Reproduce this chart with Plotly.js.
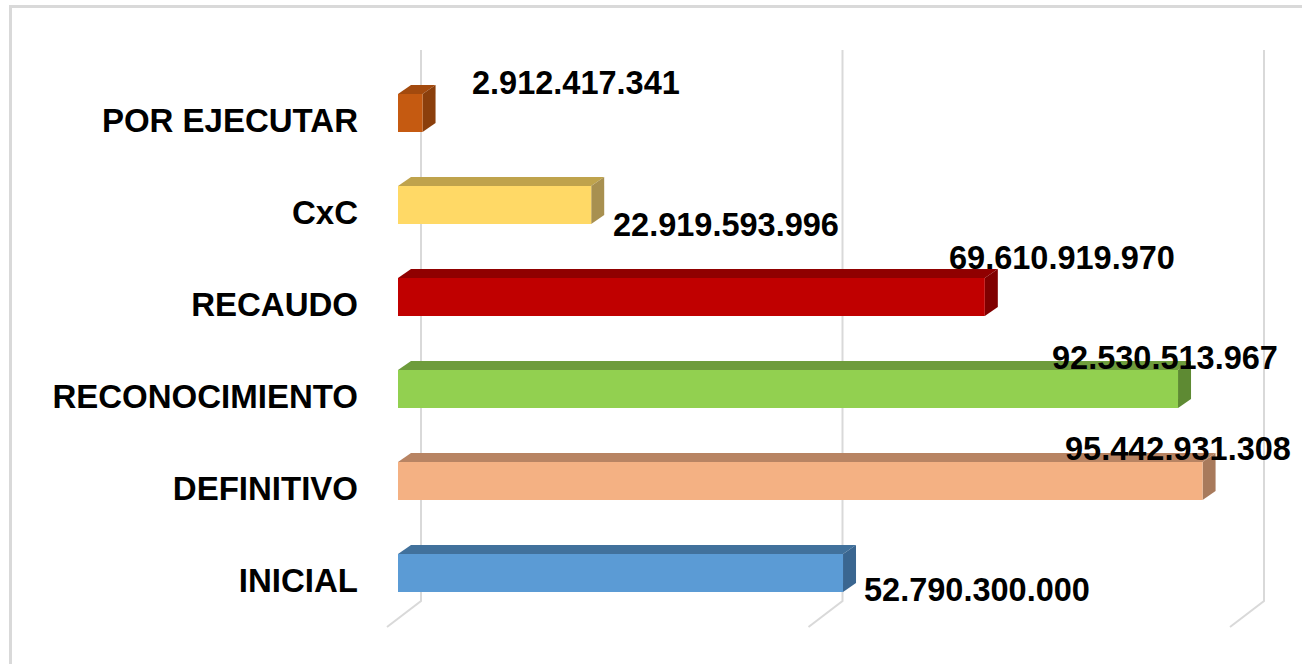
<!DOCTYPE html>
<html>
<head>
<meta charset="utf-8">
<script src="https://cdn.plot.ly/plotly-3.0.1.min.js"></script>
<style>
  html, body { margin: 0; padding: 0; background: #ffffff; }
  #frame { position: absolute; left: 9px; top: 5px; width: 1300px; height: 666px;
           border-left: 3px solid #d9d9d9; border-top: 3px solid #d9d9d9; }
  #chart { position: absolute; left: 0; top: 0; width: 1302px; height: 664px; }
</style>
</head>
<body>
<div id="frame"></div>
<div id="chart"></div>
<script>
// ---- data (bottom to top) ----
const categories = ["INICIAL", "DEFINITIVO", "RECONOCIMIENTO", "RECAUDO", "CxC", "POR EJECUTAR"];
const values = [52790300000, 95442931308, 92530513967, 69610919970, 22919593996, 2912417341];
const valueLabels = ["52.790.300.000", "95.442.931.308", "92.530.513.967", "69.610.919.970", "22.919.593.996", "2.912.417.341"];
const gridValues = [0, 50000000000, 100000000000];

// ---- styles ----
const frontColors = ["#5B9BD5", "#F4B183", "#92D050", "#C00000", "#FFD966", "#C55A11"];
const topColors   = ["#41719C", "#B88463", "#6E9C3C", "#900000", "#BFA34C", "#A34A0E"];
const sideColors  = ["#3A6690", "#A87A5C", "#5E8A33", "#800000", "#A89050", "#8B3F0C"];
// label offsets in px relative to end of bar (xshift, yshift)
const labelShift = [[19, -17], [-140, 32], [-128, 31], [-38, 39], [20, -20], [47, 30]];

// ---- geometry ----
const W = 1302, H = 664;
const ML = 380, MR = 19, MT = 30, MB = 18;
const PX_PER_B = 8.43;           // px per 1e9
const PX_PER_CAT = 92;           // px per category
const ZERO_PX = 398;             // px of value 0
const CAT0_PX = 573;             // px center of first category
const plotW = W - ML - MR, plotH = H - MT - MB;
const XMIN = -(ZERO_PX - ML) / PX_PER_B * 1e9;
const XMAX = XMIN + plotW / PX_PER_B * 1e9;
const YMAX = (CAT0_PX - MT) / PX_PER_CAT;
const YMIN = YMAX - plotH / PX_PER_CAT;
const dx = px => px / PX_PER_B * 1e9;
const dy = px => px / PX_PER_CAT;
const yAt = px => (CAT0_PX - px) / PX_PER_CAT;

const barH = 38 / PX_PER_CAT;
const depthX = dx(13), depthY = dy(9);

const idx = categories.map((c, i) => i);
const shapes = [];

// back wall gridlines with floor segment
gridValues.forEach(g => {
  const bx = g + dx(23);
  shapes.push({
    type: "path", layer: "below",
    path: `M ${bx},${yAt(50)} L ${bx},${yAt(601)} L ${bx - dx(34)},${yAt(627)}`,
    line: { color: "#d9d9d9", width: 2 }
  });
});

// 3D top and side faces
values.forEach((v, i) => {
  const yt = i + barH / 2, yb = i - barH / 2;
  shapes.push({
    type: "path", layer: "below",
    path: `M 0,${yt} L ${v},${yt} L ${v + depthX},${yt + depthY} L ${depthX},${yt + depthY} Z`,
    fillcolor: topColors[i], line: { width: 0 }
  });
  shapes.push({
    type: "path", layer: "below",
    path: `M ${v},${yb} L ${v},${yt} L ${v + depthX},${yt + depthY} L ${v + depthX},${yb + depthY} Z`,
    fillcolor: sideColors[i], line: { width: 0 }
  });
});

const annotations = values.map((v, i) => ({
  x: v, y: i, xref: "x", yref: "y",
  text: valueLabels[i], showarrow: false,
  xanchor: "left", yanchor: "middle",
  xshift: labelShift[i][0], yshift: labelShift[i][1],
  font: { family: "Liberation Sans, Arial, sans-serif", size: 32.5, color: "#000000", weight: "bold" }
}));

const trace = {
  type: "bar", orientation: "h",
  x: values, y: idx, width: barH,
  marker: { color: frontColors, line: { width: 0 } },
  hoverinfo: "skip"
};

const layout = {
  width: W, height: H,
  margin: { l: ML, r: MR, t: MT, b: MB },
  paper_bgcolor: "rgba(0,0,0,0)", plot_bgcolor: "rgba(0,0,0,0)",
  showlegend: false,
  xaxis: { range: [XMIN, XMAX], visible: false, fixedrange: true },
  yaxis: {
    range: [YMIN, YMAX], tickvals: idx, ticktext: categories,
    showgrid: false, zeroline: false, showline: false, ticks: "",
    ticklabelstandoff: 21, ticklabelshift: 7,
    tickfont: { family: "Liberation Sans, Arial, sans-serif", size: 33, color: "#000000", weight: "bold" },
    fixedrange: true
  },
  shapes: shapes,
  annotations: annotations
};

Plotly.newPlot("chart", [trace], layout, { displayModeBar: false, staticPlot: true });
</script>
</body>
</html>
